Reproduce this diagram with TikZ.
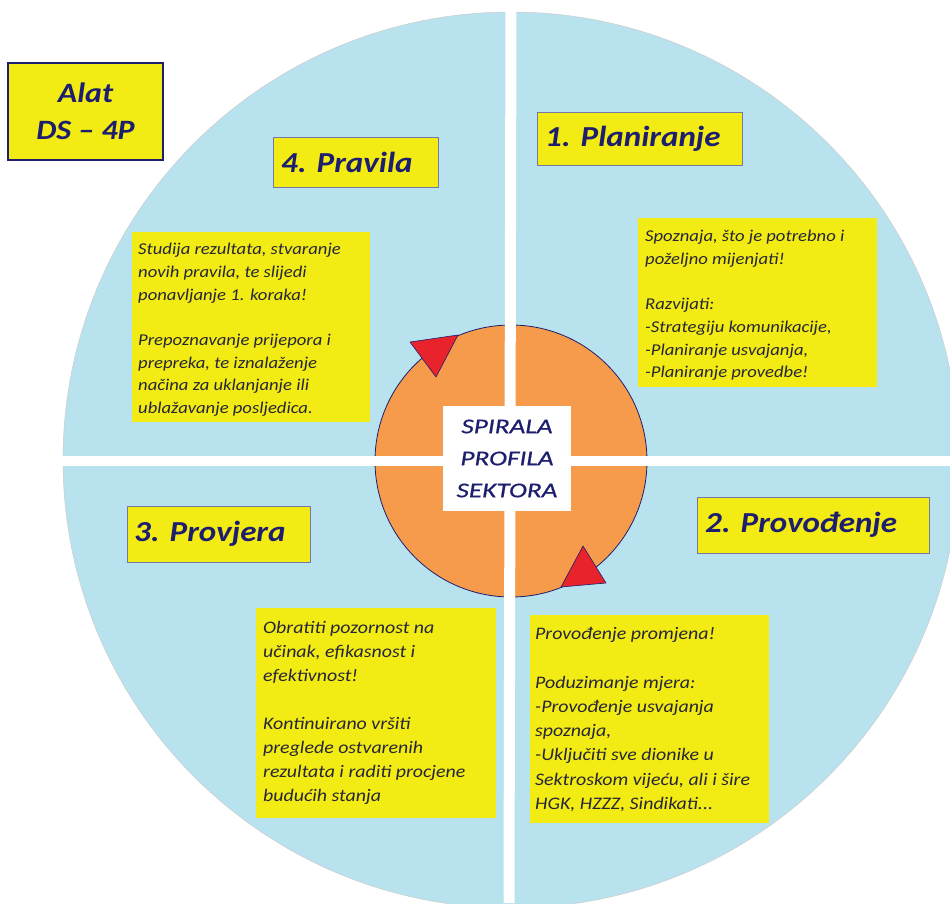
\documentclass[tikz,border=0pt]{standalone}
\usepackage{fontspec}
\setmainfont{Carlito}
\newfontfamily\bodyfont[FakeStretch=1.13,Ligatures=TeX]{Carlito}
\newfontfamily\hdrfont[FakeStretch=1.14,Ligatures=TeX]{Carlito}
\definecolor{skyb}{HTML}{B9E2EF}
\definecolor{ylw}{HTML}{F2EB14}
\definecolor{orng}{HTML}{F59B4B}
\definecolor{navy}{HTML}{1E1E6E}
\definecolor{redt}{HTML}{E8232B}
\definecolor{bodyc}{HTML}{262636}
\begin{document}
\begin{tikzpicture}[x=1pt,y=-1pt,
  ybox/.style={fill=ylw, inner sep=0, anchor=north west},
  hbox/.style={fill=ylw, draw=navy!60, line width=1pt, inner sep=0, anchor=north west},
  hdr/.style={font=\hdrfont\fontsize{29}{32}\selectfont\bfseries\itshape, text=navy, anchor=west, inner sep=0},
  body/.style={font=\bodyfont\fontsize{16.5}{22.7}\selectfont\itshape, text=bodyc, align=left, anchor=north west, inner sep=0},
  tri/.style={fill=redt, draw=navy, line width=0.6pt, line join=round}]
\useasboundingbox (0,0) rectangle (950,903);
% big circle
\node[circle, fill=skyb, draw=gray!40, line width=0.5pt, minimum size=896pt, inner sep=0] (big) at (511,460) {};
% orange circle
\node[circle, fill=orng, draw=navy, line width=0.8pt, minimum size=272pt, inner sep=0] (orb) at (511,461) {};
% white cross
\draw[white, line width=11pt] (511,0) -- (509,903);
\draw[white, line width=10pt] (0,461) -- (950,461);
% centre label
\node[fill=white, minimum width=128pt, minimum height=105pt, inner sep=0, align=center,
      font=\fontsize{21}{32}\selectfont\itshape\addfontfeatures{FakeStretch=1.3,FakeBold=0.6}, text=navy] (lbl) at (507,458.5) {SPIRALA\\PROFILA\\SEKTORA};
% triangles
\fill[tri] (410,342) -- (458,335) -- (436,377) -- cycle;
\fill[tri] (583,546) -- (606,583) -- (561,587) -- cycle;
% Alat box
\node[fill=ylw, draw=navy, line width=2pt, minimum width=155pt, minimum height=97pt, inner sep=0, align=center,
      font=\hdrfont\fontsize{28}{37}\selectfont\bfseries\itshape, text=navy] (alat) at (85.5,111.5) {Alat\\DS – 4P};
% header boxes
\node[hbox, minimum width=165pt, minimum height=50pt] (h4) at (273,137) {};
\node[hdr] (h4t) at ([shift={(8,25)}]h4.north west) {4. Pravila};
\node[hbox, minimum width=205pt, minimum height=53pt] (h1) at (537,112) {};
\node[hdr] (h1t) at ([shift={(8,26.5)}]h1.north west) {1. Planiranje};
\node[hbox, minimum width=183pt, minimum height=56pt] (h3) at (127,506) {};
\node[hdr] (h3t) at ([shift={(7,28)}]h3.north west) {3. Provjera};
\node[hbox, minimum width=232pt, minimum height=56pt] (h2) at (697,497) {};
\node[hdr] (h2t) at ([shift={(8,28)}]h2.north west) {2. Provođenje};
% body boxes
\node[ybox, minimum width=238pt, minimum height=190pt] (b4) at (132,232) {};
\node[body] (b4t) at ([shift={(6,11)}]b4.north west) {Studija rezultata, stvaranje\\novih pravila, te slijedi\\ponavljanje 1. koraka!\\[22.7pt]Prepoznavanje prijepora i\\prepreka, te iznalaženje\\načina za uklanjanje ili\\ublažavanje posljedica.};
\node[ybox, minimum width=239pt, minimum height=169pt] (b1) at (638,218) {};
\node[body] (b1t) at ([shift={(7,12)}]b1.north west) {Spoznaja, što je potrebno i\\poželjno mijenjati!\\[22.7pt]Razvijati:\\-Strategiju komunikacije,\\-Planiranje usvajanja,\\-Planiranje provedbe!};
\node[ybox, minimum width=240pt, minimum height=210pt] (b3) at (256,608) {};
\node[body, font=\bodyfont\fontsize{17.6}{24}\selectfont\itshape] (b3t) at ([shift={(7,13)}]b3.north west) {Obratiti pozornost na\\učinak, efikasnost i\\efektivnost!\\[24pt]Kontinuirano vršiti\\preglede ostvarenih\\rezultata i raditi procjene\\budućih stanja};
\node[ybox, minimum width=239pt, minimum height=208pt] (b2) at (530,615) {};
\node[body, font=\bodyfont\fontsize{17.6}{24.3}\selectfont\itshape] (b2t) at ([shift={(5,12)}]b2.north west) {Provođenje promjena!\\[24.3pt]Poduzimanje mjera:\\-Provođenje usvajanja\\spoznaja,\\-Uključiti sve dionike u\\Sektroskom vijeću, ali i šire\\HGK, HZZZ, Sindikati...};
\end{tikzpicture}
\end{document}
